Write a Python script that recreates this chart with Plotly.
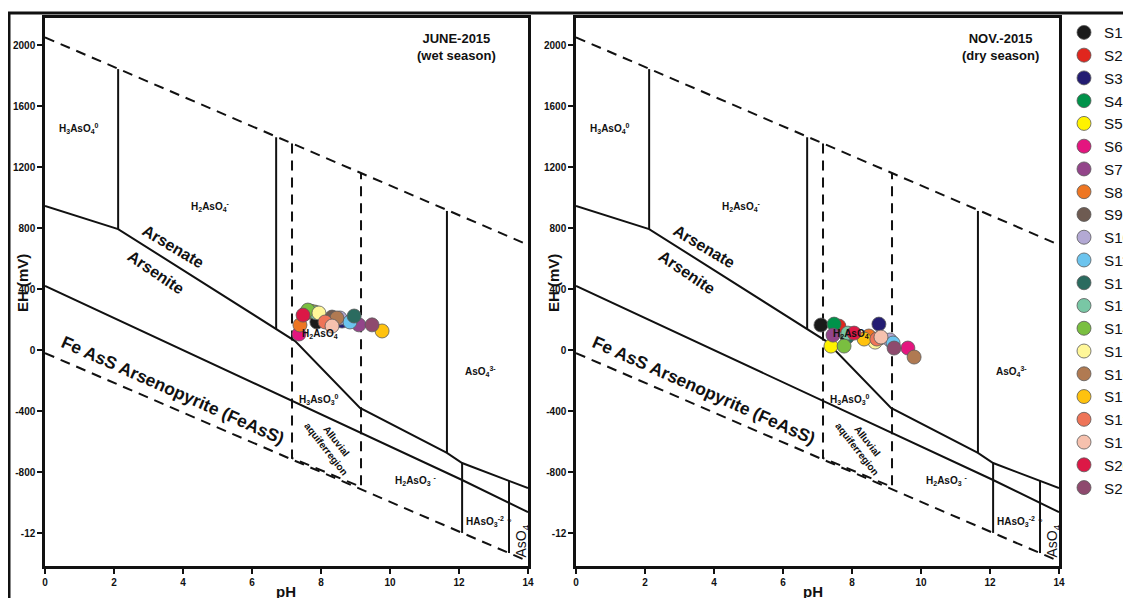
import plotly.graph_objects as go

W, H = 1131, 598
OFF = 8  # page body margin offset
FONT = "Liberation Sans, Arial, sans-serif"

# ---------------- data ----------------
samples = ["S1", "S2", "S3", "S4", "S5", "S6", "S7", "S8", "S9", "S10", "S11",
           "S12", "S13", "S14", "S15", "S16", "S17", "S18", "S19", "S20", "S21"]
colors = ["#1a1a1a", "#e0261e", "#231c72", "#00924a", "#fff200", "#e4157f", "#93458a",
          "#ee7623", "#6e5b52", "#b3a9d4", "#6cc4ee", "#2b6b5f", "#79c7a5", "#7abf40",
          "#fff799", "#b07a52", "#ffc20e", "#ee7458", "#f6c1ae", "#dc1846", "#8e4a6e"]

# June-2015 (wet season)
june_ph = [7.88, 7.55, 8.61, 7.70, 7.80, 7.36, 9.10, 7.39, 8.32, 8.55, 8.84,
           8.96, 7.85, 7.62, 7.94, 8.46, 9.77, 8.12, 8.32, 7.48, 9.48]
june_eh = [184, 240, 190, 255, 250, 105, 165, 164, 216, 210, 184,
           223, 245, 262, 243, 210, 125, 184, 157, 229, 165]

# Nov-2015 (dry season)
nov_ph = [7.10, 7.62, 8.78, 7.48, 7.39, 9.62, 7.45, 8.49, 8.81, 9.10, 9.19,
          7.86, 7.88, 7.77, 8.67, 9.80, 8.35, 8.72, 8.84, 8.06, 9.22]
nov_eh = [164, 157, 170, 170, 26, 13, 98, 92, 79, 66, 46,
          85, 111, 26, 52, -46, 72, 72, 85, 111, 13]

ph_ticks = [0, 2, 4, 6, 8, 10, 12, 14]
eh_ticks = [2000, 1600, 1200, 800, 400, 0, -400, -800, -1200]
eh_ticktext = ["2000", "1600", "1200", "800", "400", "0", "-400", "-800", "-12"]

# Eh-pH diagram boundaries
upper_water_ph = [0, 14]
upper_water_eh = [2050, 690]
lower_water_ph = [0, 14]
lower_water_eh = [-20, -1385]
arsenate_ph = [0, 2.12, 7.25, 9.13, 11.65, 12.09, 14]
arsenate_eh = [944, 793, 59, -380, -675, -741, -905]
arsenite_ph = [0, 12.09, 14]
arsenite_eh = [420, -852, -1063]
vertical_ph = [2.12, 6.70, 11.65, 12.09, 13.45]
vertical_top = [1842, 1395, 912, -741, -858]
vertical_bottom = [793, 138, -675, -1199, -1331]
aquifer_ph = [7.16, 7.16, 9.16, 9.16]
aquifer_eh = [1354, -708, -898, 1160]

panel_titles = ["<b>JUNE-2015<br>(wet season)</b>", "<b>NOV.-2015<br>(dry season)</b>"]
title_ph = [11.94, 12.3]
title_eh = [1985, 1985]

# species labels: text, pH, Eh, angle, size, bold
labels = [
    ("H<sub>3</sub>AsO<sub>4</sub><sup>0</sup>", 0.98, 1450, 0, 10, True),
    ("H<sub>2</sub>AsO<sub>4</sub><sup>-</sup>", 4.80, 940, 0, 10, True),
    ("Arsenate", 3.71, 680, 31, 16, True),
    ("Arsenite", 3.22, 510, 34, 16, True),
    ("Fe AsS Arsenopyrite (FeAsS)", 3.70, -262, 24, 17.5, True),
    ("H<sub>2</sub>AsO<sub>4</sub>", 7.97, 108, 0, 10, True),
    ("H<sub>3</sub>AsO<sub>3</sub><sup>0</sup>", 7.95, -325, 0, 10, True),
    ("Alluvial<br>aquiferregion", 8.29, -625, 52, 10, True),
    ("H<sub>2</sub>AsO<sub>3</sub> <sup>-</sup>", 10.75, -855, 0, 10, True),
    ("AsO<sub>4</sub><sup>3-</sup>", 12.62, -140, 0, 10, True),
    ("HAsO<sub>3</sub><sup>-2</sup>", 12.75, -1125, 0, 10, True),
    ("AsO<sub>4</sub>", 13.82, -1250, -90, 14, False),
    ("?", 13.46, -1125, 0, 8, False),
]


def pxx(x):
    return (x - OFF) / W


def pxy(y):
    return 1 - (y - OFF) / H


# ---------------- figure ----------------
fig = go.Figure()


def add_panel(idx, ph, eh):
    xa = "x" if idx == 0 else "x2"
    ya = "y" if idx == 0 else "y2"
    line_solid = dict(color="#111", width=2)
    line_dash = dict(color="#111", width=2, dash="10px,7px")
    for xs, ys, ln in [
        (upper_water_ph, upper_water_eh, line_dash),
        (lower_water_ph, lower_water_eh, line_dash),
        (arsenate_ph, arsenate_eh, line_solid),
        (arsenite_ph, arsenite_eh, line_solid),
    ]:
        fig.add_trace(go.Scatter(x=xs, y=ys, mode="lines", line=ln, xaxis=xa, yaxis=ya,
                                 showlegend=False, hoverinfo="skip"))
    vx, vy = [], []
    for p, t, b in zip(vertical_ph, vertical_top, vertical_bottom):
        vx += [p, p, None]
        vy += [t, b, None]
    fig.add_trace(go.Scatter(x=vx, y=vy, mode="lines", line=line_solid, xaxis=xa, yaxis=ya,
                             showlegend=False, hoverinfo="skip"))
    fig.add_trace(go.Scatter(x=aquifer_ph, y=aquifer_eh, mode="lines", line=line_dash,
                             xaxis=xa, yaxis=ya, showlegend=False, hoverinfo="skip"))
    for text, x, y, ang, size, bold in labels:
        fig.add_annotation(
            x=x, y=y, xref=xa, yref=ya, text=(f"<b>{text}</b>" if bold else text),
            textangle=ang, showarrow=False, xanchor="center", yanchor="middle",
            font=dict(family=FONT, size=size, color="#111"),
        )
    for i, name in enumerate(samples):
        fig.add_trace(go.Scatter(
            x=[ph[i]], y=[eh[i]], mode="markers", name=name, legendgroup=name,
            showlegend=(idx == 0), xaxis=xa, yaxis=ya,
            marker=dict(size=14, color=colors[i], line=dict(color="#5a5a5a", width=0.8)),
        ))
    fig.add_annotation(x=title_ph[idx], y=title_eh[idx], xref=xa, yref=ya,
                       text=panel_titles[idx], showarrow=False, align="center",
                       xanchor="center", yanchor="middle",
                       font=dict(family=FONT, size=13, color="#111"))


add_panel(0, june_ph, june_eh)
add_panel(1, nov_ph, nov_eh)

ydom = [pxy(566), pxy(18)]
ybottom = -1416
ytop = 2177
axis_common = dict(showline=True, linecolor="#111", linewidth=2.5, mirror=True,
                   showgrid=False, zeroline=False, ticks="outside", ticklen=5,
                   tickwidth=1.5, tickcolor="#111",
                   tickfont=dict(family=FONT, size=10, color="#111", weight="bold"))

fig.update_layout(
    width=W, height=H,
    margin=dict(l=0, r=0, t=0, b=0, autoexpand=False),
    paper_bgcolor="white", plot_bgcolor="white",
    xaxis=dict(domain=[pxx(45), pxx(528)], range=[0, 14], tickvals=ph_ticks, anchor="y",
               **axis_common),
    yaxis=dict(domain=ydom, range=[ybottom, ytop], tickvals=eh_ticks, ticktext=eh_ticktext,
               anchor="x", **axis_common),
    xaxis2=dict(domain=[pxx(576), pxx(1059)], range=[0, 14], tickvals=ph_ticks, anchor="y2",
                **axis_common),
    yaxis2=dict(domain=ydom, range=[ybottom, ytop], tickvals=eh_ticks, ticktext=eh_ticktext,
                anchor="x2", **axis_common),
    legend=dict(x=pxx(1064), y=pxy(16), xanchor="left", yanchor="top",
                font=dict(family=FONT, size=15.2, color="#111"),
                bgcolor="rgba(0,0,0,0)", borderwidth=0, tracegroupgap=0, itemwidth=30),
    showlegend=True,
)

# axis titles
for xc, yc in [(22, 283), (553, 283)]:
    fig.add_annotation(x=pxx(xc), y=pxy(yc), xref="paper", yref="paper",
                       text="<b>EH (mV)</b>", textangle=-90, showarrow=False,
                       xanchor="center", yanchor="middle",
                       font=dict(family=FONT, size=15, color="#111"))
for xc in [286, 813]:
    fig.add_annotation(x=pxx(xc), y=pxy(591), xref="paper", yref="paper",
                       text="<b>pH</b>", showarrow=False,
                       xanchor="center", yanchor="middle",
                       font=dict(family=FONT, size=15, color="#111"))

# outer frame of the figure
fig.add_shape(type="line", xref="paper", yref="paper", x0=pxx(8), x1=1.0, y0=pxy(13),
              y1=pxy(13), line=dict(color="#111", width=3))
fig.add_shape(type="line", xref="paper", yref="paper", x0=pxx(9), x1=pxx(9), y0=0,
              y1=pxy(13), line=dict(color="#111", width=3))

fig.write_html("out.html")
